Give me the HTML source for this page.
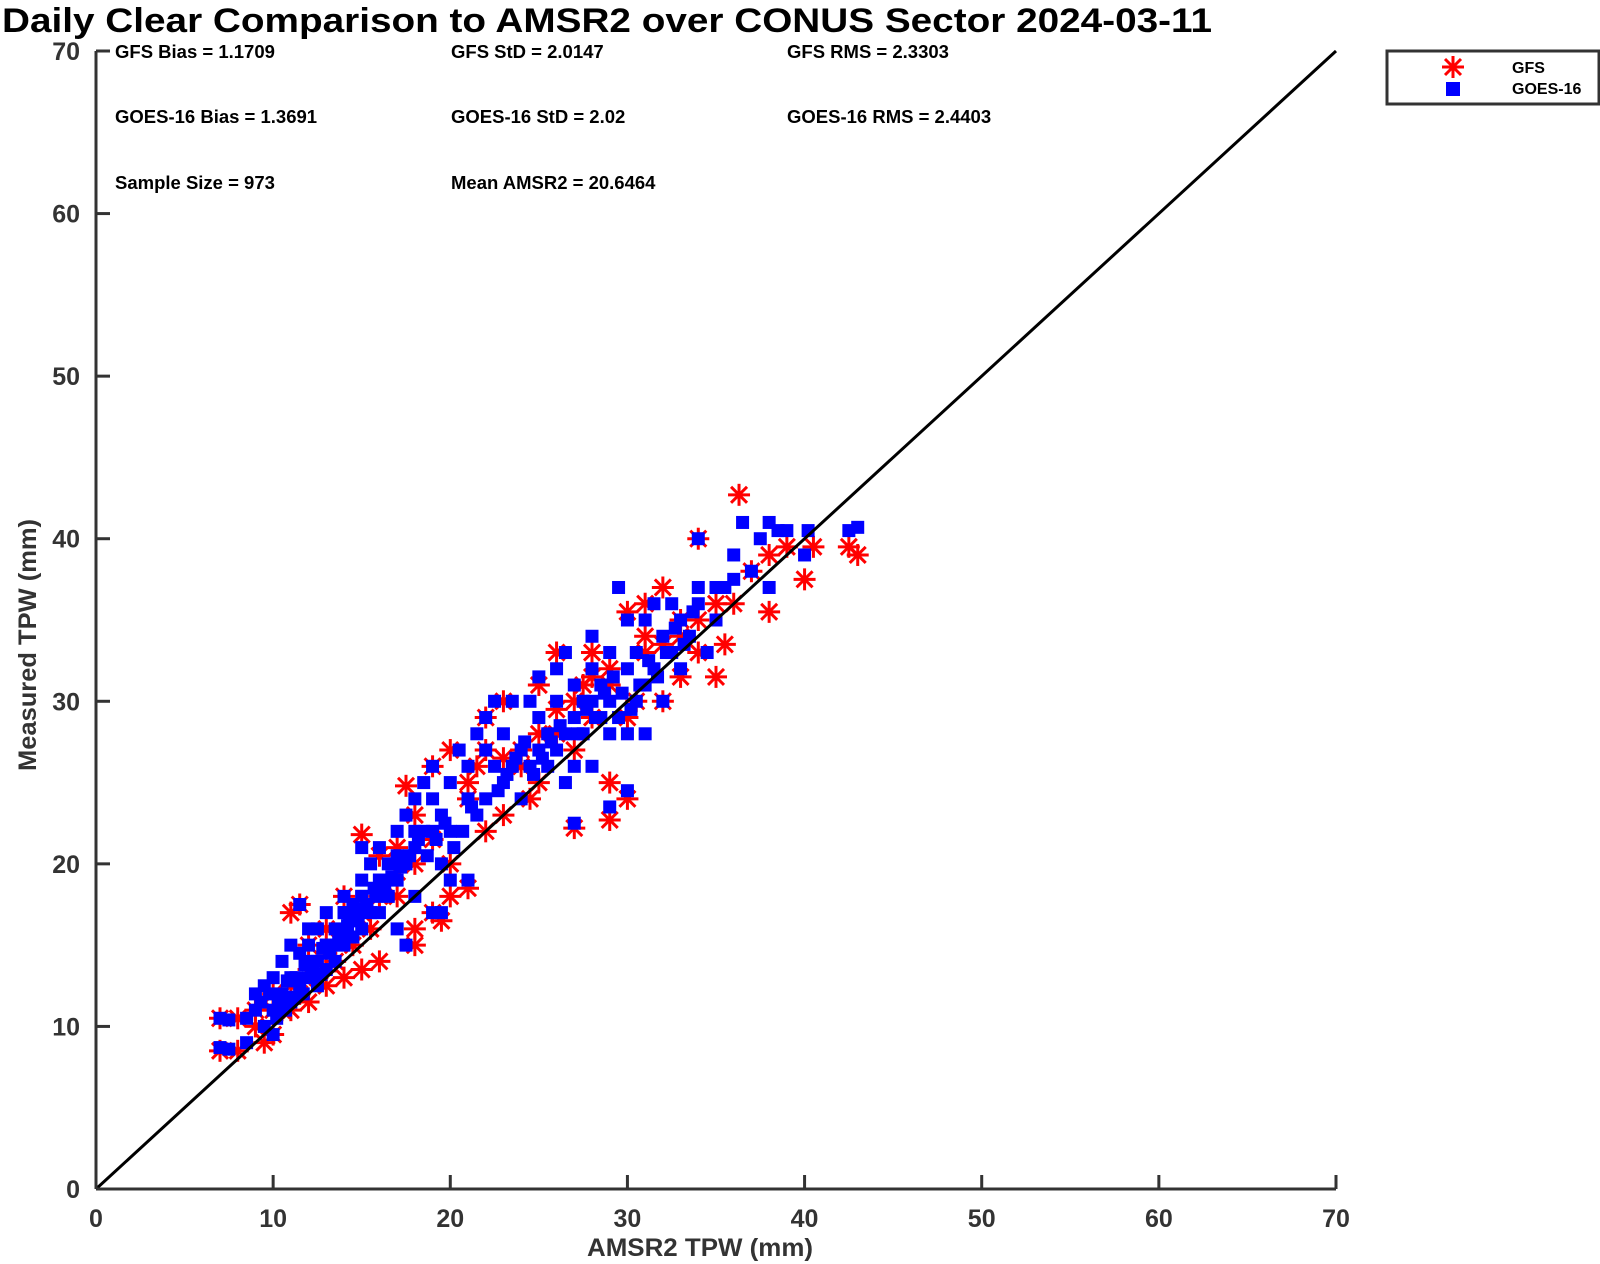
<!DOCTYPE html>
<html><head><meta charset="utf-8"><style>
body{margin:0;background:#fff;}
svg{display:block;font-family:"Liberation Sans",Arial,sans-serif;}
</style></head><body>
<svg id="chart" width="1600" height="1264" viewBox="0 0 1600 1264">
<text x="2" y="32" font-size="34" font-weight="bold" fill="#000" textLength="1210" lengthAdjust="spacingAndGlyphs">Daily Clear Comparison to AMSR2 over CONUS Sector 2024-03-11</text>
<g id="stats" font-size="18.5" font-weight="bold" fill="#000">
<text x="115" y="58">GFS Bias = 1.1709</text>
<text x="451" y="58">GFS StD = 2.0147</text>
<text x="787" y="58">GFS RMS = 2.3303</text>
<text x="115" y="123">GOES-16 Bias = 1.3691</text>
<text x="451" y="123">GOES-16 StD = 2.02</text>
<text x="787" y="123">GOES-16 RMS = 2.4403</text>
<text x="115" y="189">Sample Size = 973</text>
<text x="451" y="189">Mean AMSR2 = 20.6464</text>
</g>
<g id="marks"></g>
<g id="axes"></g>
<g>
<rect x="1387" y="51" width="212" height="53" fill="#fff" stroke="#333" stroke-width="3"/>
<g stroke="#f00" stroke-width="3">
<line x1="1453" y1="56" x2="1453" y2="78"/><line x1="1442" y1="67" x2="1464" y2="67"/>
<line x1="1445" y1="59" x2="1461" y2="75"/><line x1="1461" y1="59" x2="1445" y2="75"/></g>
<rect x="1446" y="82" width="14" height="14" fill="#00f"/>
<text x="1512" y="73" font-size="16" font-weight="bold">GFS</text>
<text x="1512" y="94" font-size="16" font-weight="bold">GOES-16</text>
</g>
<text x="700" y="1256" font-size="25" font-weight="bold" fill="#333" text-anchor="middle" textLength="226" lengthAdjust="spacingAndGlyphs">AMSR2 TPW (mm)</text>
<text transform="translate(36,645) rotate(-90)" font-size="25" font-weight="bold" fill="#333" text-anchor="middle" textLength="252" lengthAdjust="spacingAndGlyphs">Measured TPW (mm)</text>
</svg>
<script>
const xTicks=[0,10,20,30,40,50,60,70];
const yTicks=[0,10,20,30,40,50,60,70];
const goesX=[7,7.5,7,7.5,8.5,8.5,9,9,9.5,9.5,10,10,10,10.5,10.5,11,11,11,11.5,11.5,11.5,12,12,12,12.5,12.5,12.5,13,13,13,13.5,13.5,14,14,14,14.5,14.5,15,15,15,15,15.5,15.5,16,16,16,16.5,16.5,17,17,17,17.5,17.5,17.5,18,18,18,18.5,18.5,19,19,19,19.5,19.5,19.5,20,20,20,20.5,21,21,21,21.5,21.5,22,22,22,22.5,22.5,23,23,23.5,23.5,24,24,24.5,24.5,25,25,25,25.5,25.5,26,26,26,26.5,26.5,26.5,27,27,27,27,27.5,27.5,28,28,28,28,28.5,28.5,29,29,29,29,29.5,29.5,30,30,30,30,30.5,30.5,31,31,31,31.5,31.5,32,32,32.5,32.5,33,33,33.5,34,34,34,34.5,35,35,35.5,36,36,36.5,37,37.5,38,38,38.5,39,40,40.2,42.5,43,
9.3,9.8,10.3,10.8,11.3,11.8,12.3,12.8,13.3,13.8,14.3,14.8,15.3,15.8,16.3,10.2,10.7,11.2,11.7,12.2,12.7,13.2,13.7,14.2,14.7,15.2,15.7,16.2,16.7,17.2,17.7,18.2,18.7,19.2,19.7,20.2,20.7,21.2,22.7,23.2,23.7,24.2,24.7,25.2,25.7,26.2,27.2,27.7,28.2,28.7,29.2,29.7,30.2,30.7,31.2,31.7,32.2,32.7,33.2,33.7,12,13,14,15,16,17,18,19];
const goesY=[10.5,10.4,8.7,8.6,9,10.5,11,12,10,12.5,11,13,9.5,12,14,11.5,13,15,12.5,14.5,17.5,13,15,16,12.5,14,16,13.5,15,17,14,16,15,17,18,15.5,17.5,16,18,19,21,17,20,17,19,21,18,20,19,22,16,15,20,23,21,24,18,25,22,26,22,17,17,20,23,19,22,25,27,24,19,26,23,28,24,27,29,26,30,25,28,30,26,27,24,26,30,27,29,31.5,28,26,30,32,27,33,25,28,22.5,26,29,31,30,28,32,34,30,26,29,31,23.5,28,30,33,37,29,32,28,24.5,35,30,33,31,35,28,32,36,30,34,33,36,32,35,34,37,40,36,33,37,35,37,39,37.5,41,38,40,37,41,40.5,40.5,39,40.5,40.5,40.7,
11.5,12,11.5,12.8,13,13.8,14,14.8,15,15.5,16.5,16.5,17.5,18,18.5,10.5,11,11.8,12,13.5,13.2,14.5,15.2,16.2,16.8,17.2,18.5,18.2,19.2,19.8,20.5,21.5,20.5,21.5,22.5,21,22,23.5,24.5,25.5,26.5,27.5,25.5,26.5,27.5,28.5,28,29.5,29,30.5,31.5,30.5,29.5,31,32.5,31.5,33,34.5,33.5,35.5,14,15,17,18,19,20.5,22,24];
const gfsX=[36.3,38,40,42.5,43,27,29,30,29,24.5,21,11.5,11,15,17.5,34,35.5,35,7,7,8,9.5,10,11,12,13,14,15,16,18,18,19,20,22,23,25,27,30,32,33,31,30,28,26,25,22,22,20,19,18,17,16,14,13,12,10,9,8,36,37,38,39,40.5,32,31,33,34,28,26,24,21,20,19.5,17,15.5,14.5,13.5,12.5,11.5,10.5,29,30.5,27.5,23,21.5,
9,10,11,12,13,14,15,16,17,18,19,21,23,24,25,26,27,28,29,31,32,33,34,35];
const gfsY=[42.7,35.5,37.5,39.5,39,22.2,22.7,24,25,24,18.5,17.5,17,21.8,24.8,40,33.5,31.5,10.5,8.5,8.5,9,9.5,11,11.5,12.5,13,13.5,14,16,15,17,18,22,23,25,27,29,30,31.5,34,35.5,33,33,31,29,27,27,26,23,21,20.5,18,16,15,12,11,10.5,36,38,39,39.5,39.5,37,36,35,33,29,28,26,24,20,16.5,18,16,15,14,13,12,11,31,30,31,30,26,
10,11,12.5,13.5,14.5,15.5,17,18,19.5,20,21.5,25,26.5,27,28,29.5,30,31.5,32,33,33.5,34,35,36];
const X0=96,X1=1336,Y0=1189,Y1=51,XMAX=70,YMAX=70;
const sx=v=>X0+(X1-X0)*v/XMAX, sy=v=>Y0-(Y0-Y1)*v/YMAX;
const NS='http://www.w3.org/2000/svg';
const marks=document.getElementById('marks'), axes=document.getElementById('axes');
function mk(tag,attrs,parent){const e=document.createElementNS(NS,tag);for(const k in attrs)e.setAttribute(k,attrs[k]);parent.appendChild(e);return e;}
const gfsG=mk('g',{stroke:'#f00','stroke-width':3},marks);


for(let i=0;i<gfsX.length;i++){
  const cx=sx(gfsX[i]),cy=sy(gfsY[i]),r=11,d=8;
  const g=mk('g',{},gfsG);
  
  
  mk('line',{x1:cx,y1:cy-r,x2:cx,y2:cy+r},g);mk('line',{x1:cx-r,y1:cy,x2:cx+r,y2:cy},g);
  mk('line',{x1:cx-d,y1:cy-d,x2:cx+d,y2:cy+d},g);mk('line',{x1:cx+d,y1:cy-d,x2:cx-d,y2:cy+d},g);
}
const goesG=mk('g',{fill:'#00f'},marks);


for(let i=0;i<goesX.length;i++){
  const r=mk('rect',{x:sx(goesX[i])-6.5,y:sy(goesY[i])-6.5,width:13,height:13},goesG);
  
  
}
const diag=mk('line',{x1:sx(0),y1:sy(0),x2:sx(70),y2:sy(70),stroke:'#000','stroke-width':3},axes);


const xa=mk('line',{x1:X0,y1:Y0,x2:X1,y2:Y0,stroke:'#333','stroke-width':3},axes);


const ya=mk('line',{x1:X0,y1:Y0,x2:X0,y2:Y1,stroke:'#333','stroke-width':3},axes);


xTicks.forEach(t=>{
  mk('line',{x1:sx(t),y1:Y0,x2:sx(t),y2:Y0-14,stroke:'#333','stroke-width':3},axes);
  const tx=mk('text',{x:sx(t),y:Y0+38,'font-size':25,'font-weight':'bold',fill:'#333','text-anchor':'middle'},axes);
  tx.textContent=t;
  
  
});
yTicks.forEach(t=>{
  mk('line',{x1:X0,y1:sy(t),x2:X0+14,y2:sy(t),stroke:'#333','stroke-width':3},axes);
  const tx=mk('text',{x:X0-16,y:sy(t)+9,'font-size':25,'font-weight':'bold',fill:'#333','text-anchor':'end'},axes);
  tx.textContent=t;
  
  
});
</script>
</body></html>
